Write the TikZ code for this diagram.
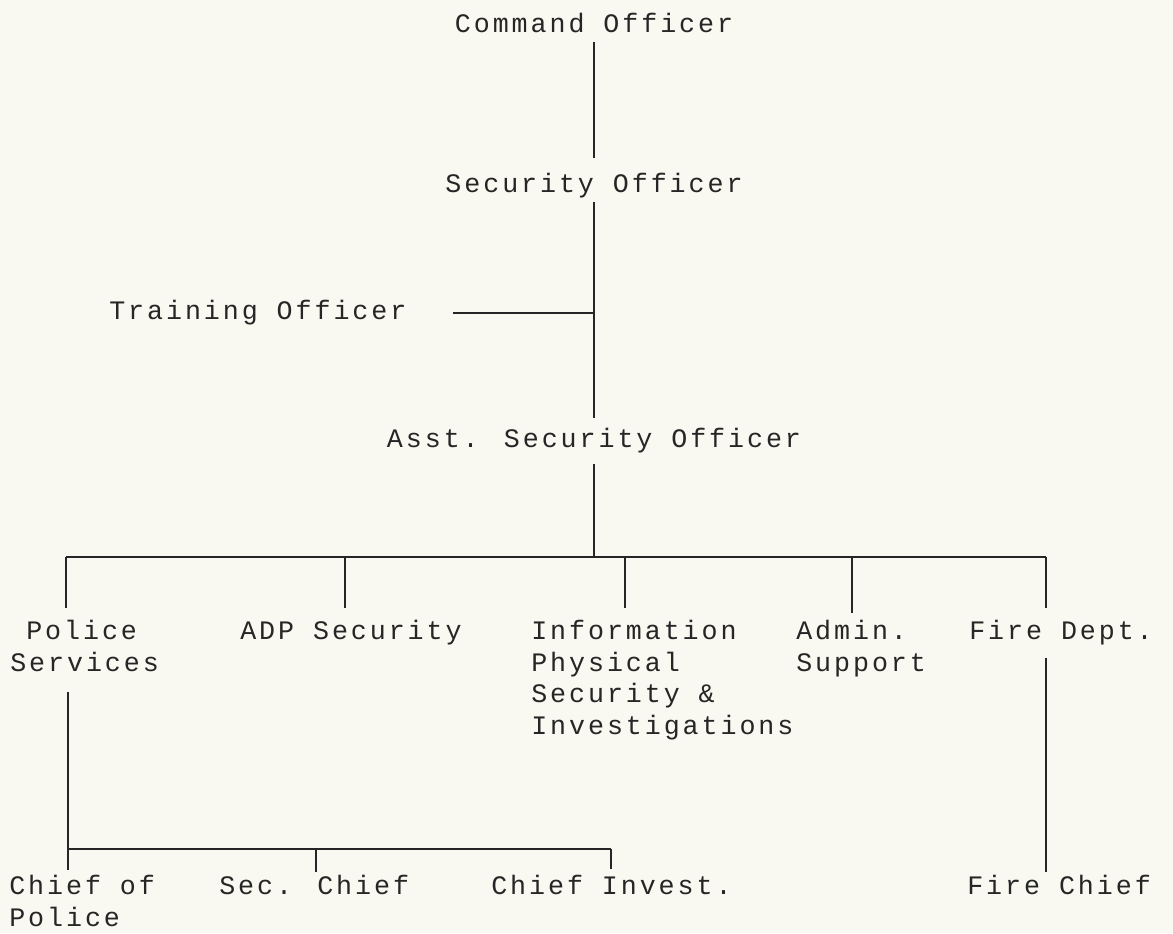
\documentclass[tikz,border=0pt]{standalone}
\usepackage{fontspec}
\newfontfamily\chartfont[LetterSpace=11]{Liberation Mono}
\usepackage{tikz}
\usetikzlibrary{calc,positioning}
\definecolor{paper}{RGB}{249,249,241}
\definecolor{ink}{RGB}{38,38,38}

\begin{document}
\begin{tikzpicture}[x=0.75pt,y=0.75pt,yscale=-1,xscale=1,
  post/.style={inner sep=0pt,align=left,text=ink,font=\chartfont\fontsize{20}{23.8}\selectfont,execute at begin node=\strut},
  wire/.style={draw=ink,line width=1.5pt}]
\useasboundingbox [fill=paper] (0,0) rectangle (1173,933);

% Text Node
\node [post,anchor=north] (cmd) at (594,9.8) {Command Officer};
% Text Node
\node [post,anchor=north] (sec) at (594,169.8) {Security Officer};
% Text Node
\node [post,anchor=north west] (train) at (109,296.8) {Training Officer};
% Text Node
\node [post,anchor=north] (asst) at (594,424.8) {Asst. Security Officer};
% Text Node
\node [post,anchor=north west] (police) at (10,619.8) {\hphantom{S}Police\\Services};
% Text Node
\node [post,anchor=north west] (adp) at (240,616.8) {ADP Security};
% Text Node
\node [post,anchor=north west] (info) at (531,619.8) {Information\\Physical\\Security \&\\Investigations};
% Text Node
\node [post,anchor=north west] (admin) at (796,619.8) {Admin.\\Support};
% Text Node
\node [post,anchor=north west] (fire) at (969,616.8) {Fire Dept.};
% Text Node
\node [post,anchor=north west] (chiefpol) at (9,874.8) {Chief of\\Police};
% Text Node
\node [post,anchor=north west] (secchief) at (219,871.8) {Sec. Chief};
% Text Node
\node [post,anchor=north west] (chiefinv) at (491,871.8) {Chief Invest.};
% Text Node
\node [post,anchor=north west] (firechief) at (967,871.8) {Fire Chief};

% junctions on the bars
\coordinate (j1) at (66,557);
\coordinate (j2) at (345,557);
\coordinate (j3) at (625,557);
\coordinate (j4) at (852,557);
\coordinate (j5) at (1046,557);
\coordinate (k1) at (68,849);
\coordinate (k2) at (316,849);
\coordinate (k3) at (611,849);

%Straight Lines
\draw [wire,shorten >=8.85pt] (cmd.south) -- (sec.north);
\draw [wire,shorten >=5.1pt] (sec.south) -- (asst.north);
\draw [wire] ([xshift=34.5pt]train.east) -- (train.east -| asst.south);
\draw [wire,shorten <=4.9pt] (asst.south) -- (asst.south |- j1);
\draw [wire] (j1) -- (j5);
\foreach \j/\n in {j1/police,j3/info}
  \draw [wire,shorten >=8.85pt] (\j) -- (\j |- \n.north);
\foreach \j/\n in {j2/adp,j5/fire}
  \draw [wire,shorten >=6.6pt] (\j) -- (\j |- \n.north);
\draw [wire,shorten >=5.1pt] (j4) -- (j4 |- admin.north);
%Straight Lines
\draw [wire,shorten <=8.25pt,shorten >=3.6pt] (k1 |- police.south) -- (k1 |- chiefpol.north);
\draw [wire] (k1) -- (k3);
\draw [wire] (k2) -- (k2 |- secchief.north);
\draw [wire,shorten >=2.25pt] (k3) -- (k3 |- chiefinv.north);
\draw [wire,shorten <=6.4pt] (j5 |- fire.south) -- (j5 |- firechief.north);

\end{tikzpicture}
\end{document}
